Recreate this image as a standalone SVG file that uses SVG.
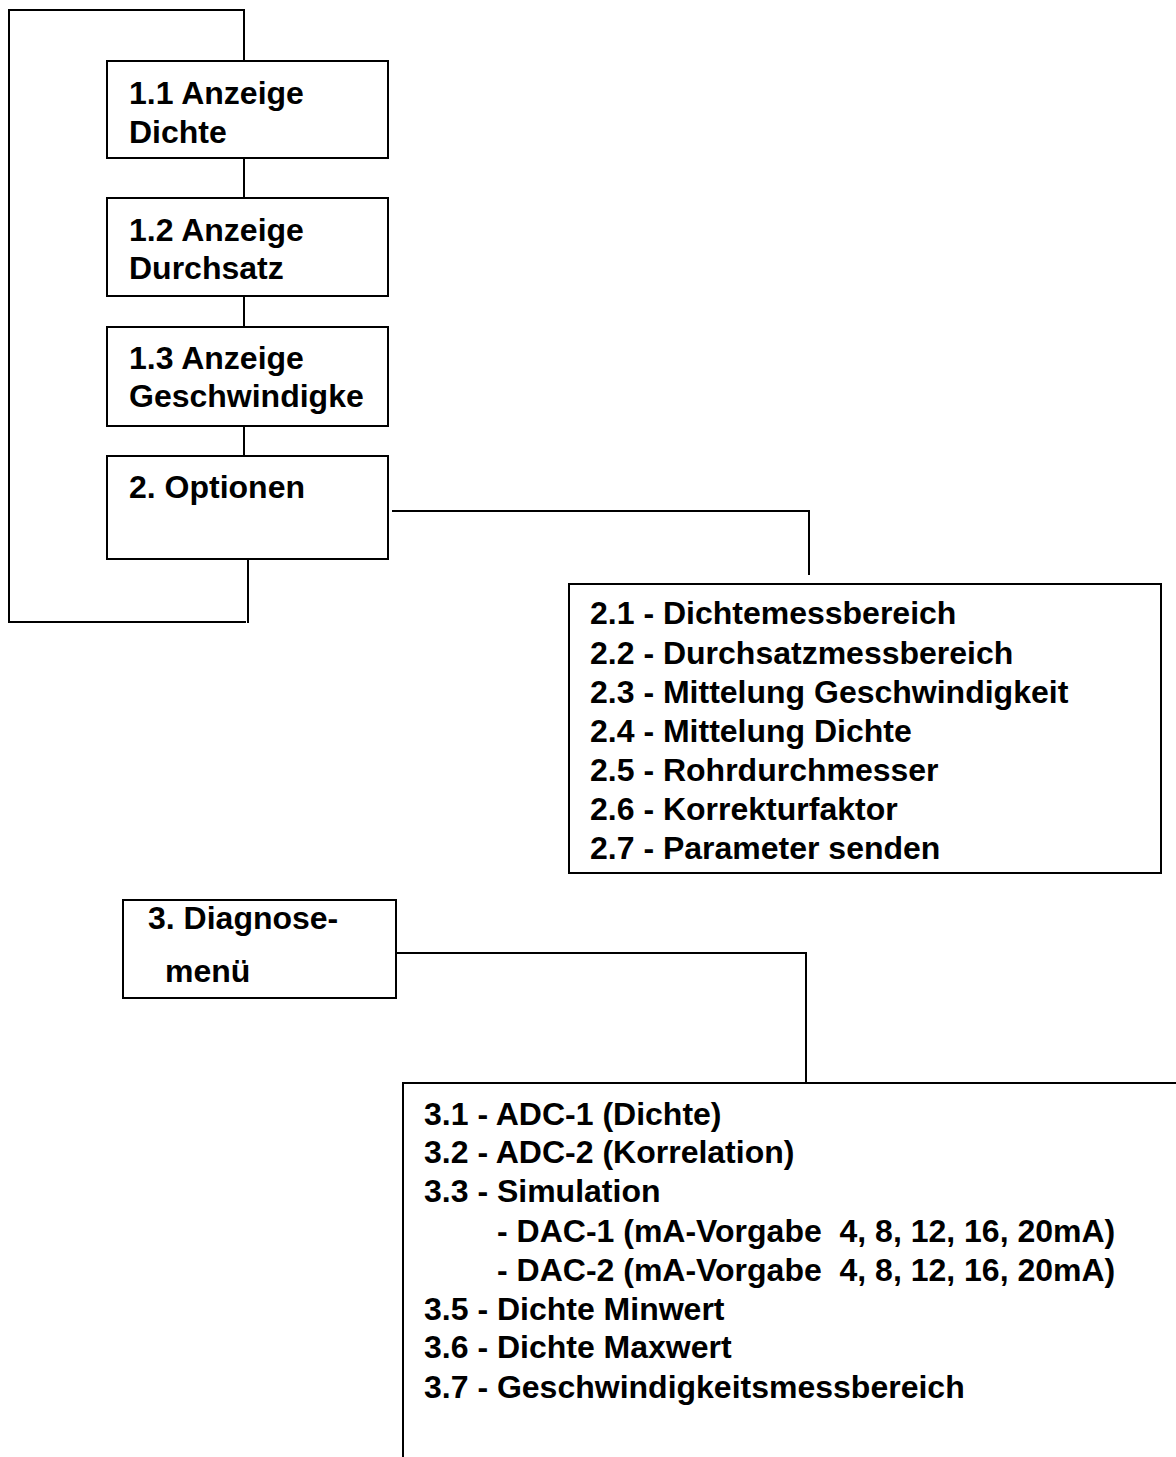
<svg xmlns="http://www.w3.org/2000/svg" width="1176" height="1457" viewBox="0 0 1176 1457">
<style>
.box{fill:#fff;stroke:#000;stroke-width:2}
.ln{fill:none;stroke:#000;stroke-width:2}
text{font-family:"Liberation Sans",Arial,sans-serif;font-weight:bold;font-size:32px;fill:#000}
</style>
<rect width="1176" height="1457" fill="#fff"/>
<g id="connectors">
<path class="ln" d="M244,61 V10 H9 V622 H246"/>
<path class="ln" d="M248,559 V623"/>
<path class="ln" d="M244,158 V198"/>
<path class="ln" d="M244,296 V327"/>
<path class="ln" d="M244,426 V456"/>
<path class="ln" d="M392,511 H810 M809,511 V575"/>
<path class="ln" d="M396,953 H806 V1083"/>
</g>
<g id="n11"><rect class="box" x="107" y="61" width="281" height="97"/><text x="129" y="104">1.1 Anzeige</text><text x="129" y="143">Dichte</text></g>
<g id="n12"><rect class="box" x="107" y="198" width="281" height="98"/><text x="129" y="241">1.2 Anzeige</text><text x="129" y="279">Durchsatz</text></g>
<g id="n13"><rect class="box" x="107" y="327" width="281" height="99"/><text x="129" y="369">1.3 Anzeige</text><text x="129" y="407">Geschwindigke</text></g>
<g id="n2"><rect class="box" x="107" y="456" width="281" height="103"/><text x="129" y="498">2. Optionen</text></g>
<g id="n2x"><rect class="box" x="569" y="584" width="592" height="289"/>
<text x="590" y="624">2.1 - Dichtemessbereich</text>
<text x="590" y="664">2.2 - Durchsatzmessbereich</text>
<text x="590" y="703">2.3 - Mittelung Geschwindigkeit</text>
<text x="590" y="742">2.4 - Mittelung Dichte</text>
<text x="590" y="781">2.5 - Rohrdurchmesser</text>
<text x="590" y="820">2.6 - Korrekturfaktor</text>
<text x="590" y="859">2.7 - Parameter senden</text>
</g>
<g id="n3"><rect class="box" x="123" y="900" width="273" height="98"/><text x="148" y="929">3. Diagnose-</text><text x="165" y="982">menü</text></g>
<g id="n3x"><path class="ln" d="M1177,1083 H403 V1458"/>
<text x="424" y="1125">3.1 - ADC-1 (Dichte)</text>
<text x="424" y="1163">3.2 - ADC-2 (Korrelation)</text>
<text x="424" y="1202">3.3 - Simulation</text>
<text x="497" y="1242" xml:space="preserve">- DAC-1 (mA-Vorgabe  4, 8, 12, 16, 20mA)</text>
<text x="497" y="1281" xml:space="preserve">- DAC-2 (mA-Vorgabe  4, 8, 12, 16, 20mA)</text>
<text x="424" y="1320">3.5 - Dichte Minwert</text>
<text x="424" y="1358">3.6 - Dichte Maxwert</text>
<text x="424" y="1398">3.7 - Geschwindigkeitsmessbereich</text>
</g>
</svg>
